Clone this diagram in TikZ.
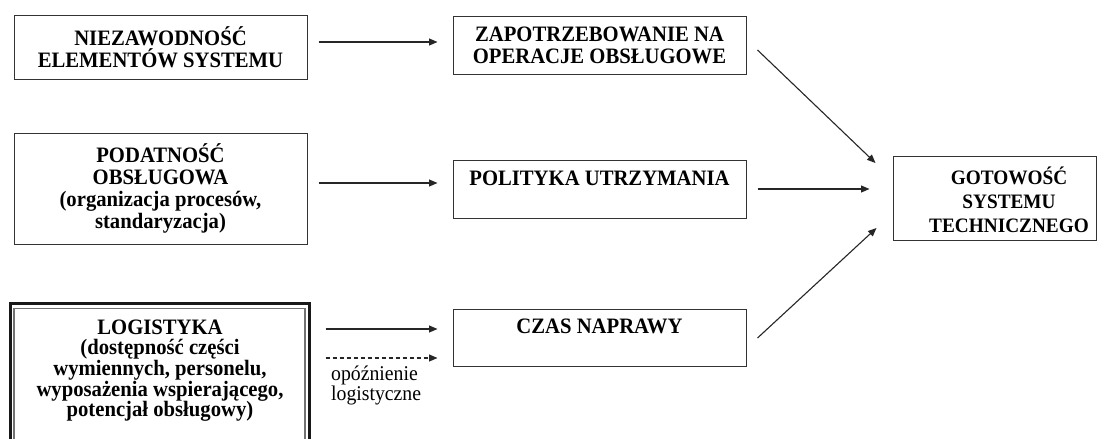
\documentclass[tikz,border=0pt]{standalone}
\usepackage{fontspec}
\setmainfont{Liberation Serif}
\newfontfamily\labelfont{Liberation Serif}[FakeStretch=0.94]
\usetikzlibrary{arrows.meta}
\tikzset{
  box/.style={draw=black!80, line width=1pt, align=center, inner sep=0pt,
    font=\labelfont\bfseries\fontsize{22}{22}\selectfont},
  arr/.style={draw=black!85, line width=1.1pt, -{Triangle[length=8.5pt,width=7pt]}},
  note/.style={align=left, inner sep=0pt, font=\labelfont\fontsize{21}{20}\selectfont}
}
\begin{document}
\begin{tikzpicture}[x=1pt,y=-1pt]
\path[use as bounding box, clip] (0,0) rectangle (1106,439);
\fill[white] (0,0) rectangle (1106,439);

% left column: factors
\node[box, minimum width=293, minimum height=64] (nie) at (160.5,47)
  {NIEZAWODNOŚĆ\\ELEMENTÓW SYSTEMU};
\node[box, minimum width=293, minimum height=111] (pod) at (160.5,188.5)
  {PODATNOŚĆ\\OBSŁUGOWA\\(organizacja procesów,\\standaryzacja)};
% logistics box: thick outer frame with a thin grey inner frame
\node[draw=black!90, line width=3pt, minimum width=299, minimum height=160,
      inner sep=0pt] (log) at (159.5,383) {};
\draw[black!55, line width=1.2pt] (14,308.5) rectangle (305,470);
\node[box, draw=none, anchor=north, font=\labelfont\bfseries\fontsize{22}{20.7}\selectfont] (logt) at (160,319)
  {LOGISTYKA\\(dostępność części\\wymiennych, personelu,\\wyposażenia wspierającego,\\potencjał obsługowy)};

% middle column
\node[box, minimum width=293, minimum height=58] (zap) at (599.5,45)
  {ZAPOTRZEBOWANIE NA\\OPERACJE OBSŁUGOWE};
\node[box, minimum width=293, minimum height=58] (pol) at (599.5,189) {};
\node[box, draw=none, anchor=north] (polt) at ([yshift=-11pt]pol.north) {POLITYKA UTRZYMANIA};
\node[box, minimum width=293, minimum height=57] (czas) at (599.5,337.5) {};
\node[box, draw=none, anchor=north] (czast) at ([yshift=-10pt]czas.north) {CZAS NAPRAWY};

% result
\node[box, minimum width=203, minimum height=84] (got) at (994.5,198) {};
\node[box, draw=none, font=\labelfont\bfseries\fontsize{20.5}{24}\selectfont] (gott) at (1009,200)
  {GOTOWOŚĆ\\SYSTEMU\\TECHNICZNEGO};

% connectors
\draw[arr] ([xshift=11pt,yshift=5pt]nie.east) -- ([xshift=-15pt,yshift=3pt]zap.west);
\draw[arr] ([xshift=11pt,yshift=5.5pt]pod.east) -- ([xshift=-15pt,yshift=6pt]pol.west);
\draw[arr] ([xshift=15pt,yshift=8.5pt]czas.west -| log.east) -- ([xshift=-15pt,yshift=8.5pt]czas.west);
\draw[arr, dashed, dash pattern=on 4pt off 3pt]
  ([xshift=15pt,yshift=-20.5pt]czas.west -| log.east) -- ([xshift=-15pt,yshift=-20.5pt]czas.west);
\node[note, anchor=north west] (delay) at (331,366) {opóźnienie\\logistyczne};

\draw[arr] ([xshift=11pt,yshift=-5pt]zap.east) -- ([xshift=-17pt,yshift=35pt]got.west);
\draw[arr] ([xshift=11pt]pol.east) -- ([xshift=-23pt,yshift=9pt]got.west);
\draw[arr] ([xshift=11pt,yshift=-0.5pt]czas.east) -- ([xshift=-16pt,yshift=-30pt]got.west);
\end{tikzpicture}
\end{document}
